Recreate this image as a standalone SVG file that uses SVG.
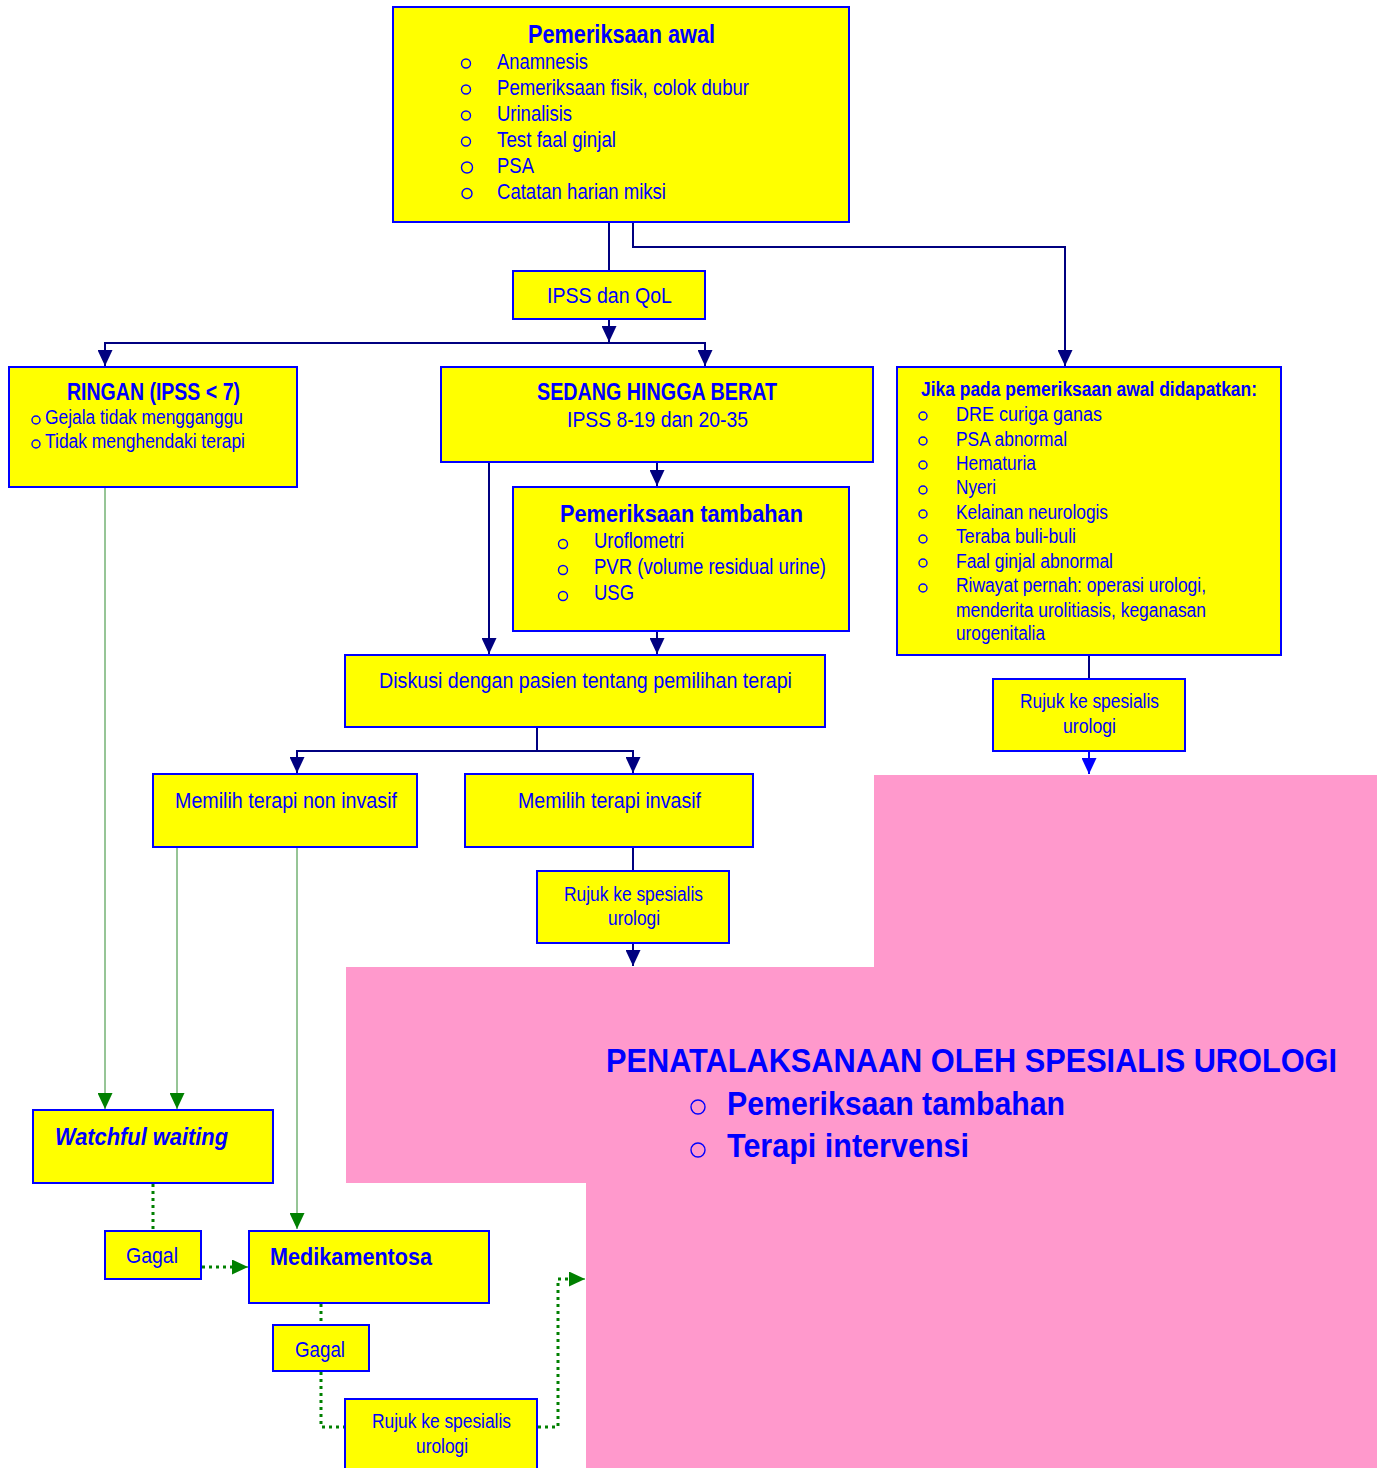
<svg xmlns="http://www.w3.org/2000/svg" width="1377" height="1468" viewBox="0 0 1377 1468">
<style>
.box{fill:#FFFF00;stroke:#0000FF;stroke-width:2}
text{font-family:"Liberation Sans",Arial,sans-serif;fill:#0000FF}
.t{font-size:22px}
.s{font-size:20px}
.b{font-weight:bold}
.bul{fill:none;stroke:#0000FF;stroke-width:1.4}
.nv{fill:none;stroke:#000080;stroke-width:2}
.gr{fill:none;stroke:#2E8B2E;stroke-width:1}
.gd{fill:none;stroke:#008000;stroke-width:3;stroke-dasharray:3 4}
</style>
<defs>
<marker id="an" viewBox="0 0 16 15" refX="16" refY="7.5" markerWidth="16" markerHeight="15" markerUnits="userSpaceOnUse" orient="auto"><path d="M0,0 L16,7.5 L0,15 z" fill="#000080"/></marker>
<marker id="ab" viewBox="0 0 16 15" refX="16" refY="7.5" markerWidth="16" markerHeight="15" markerUnits="userSpaceOnUse" orient="auto"><path d="M0,0 L16,7.5 L0,15 z" fill="#0000FF"/></marker>
<marker id="ag" viewBox="0 0 16 15" refX="16" refY="7.5" markerWidth="16" markerHeight="15" markerUnits="userSpaceOnUse" orient="auto"><path d="M0,0 L16,7.5 L0,15 z" fill="#008000"/></marker>
</defs>
<rect width="1377" height="1468" fill="#FFFFFF"/>

<g id="pink">
<path d="M874,775 H1377 V1468 H586 V1183 H346 V967 H874 Z" fill="#FF99CC"/>
<text class="b" transform="translate(606,1072) scale(0.85,1)" x="0" y="0" font-size="33" textLength="860" lengthAdjust="spacingAndGlyphs">PENATALAKSANAAN OLEH SPESIALIS UROLOGI</text>
<circle class="bul" cx="698" cy="1107" r="7" stroke-width="2"/>
<text class="b" x="727" y="1115" font-size="33" textLength="338" lengthAdjust="spacingAndGlyphs">Pemeriksaan tambahan</text>
<circle class="bul" cx="698" cy="1150" r="7" stroke-width="2"/>
<text class="b" x="727" y="1157" font-size="33" textLength="242" lengthAdjust="spacingAndGlyphs">Terapi intervensi</text>
</g>

<g id="connectors">
<path class="nv" d="M609,222 V271"/>
<path class="nv" d="M633,222 V247 H1065 V366" marker-end="url(#an)"/>
<path class="nv" d="M609,319 V342" marker-end="url(#an)"/>
<path class="nv" d="M609,343 H105 V366" marker-end="url(#an)"/>
<path class="nv" d="M609,343 H705 V366" marker-end="url(#an)"/>
<path class="nv" d="M657,463 V486" marker-end="url(#an)"/>
<path class="nv" d="M489,463 V654" marker-end="url(#an)"/>
<path class="nv" d="M657,631 V654" marker-end="url(#an)"/>
<path class="nv" d="M537,727 V751 H297 V773" marker-end="url(#an)"/>
<path class="nv" d="M537,751 H633 V773" marker-end="url(#an)"/>
<path class="nv" d="M633,847 V871"/>
<path class="nv" d="M633,943 V966" marker-end="url(#an)"/>
<path class="nv" d="M1089,655 V679"/>
<path d="M1089,751 V774" fill="none" stroke="#0000FF" stroke-width="2" marker-end="url(#ab)"/>
<path class="gr" d="M105,487 V1109" marker-end="url(#ag)"/>
<path class="gr" d="M177,847 V1109" marker-end="url(#ag)"/>
<path class="gr" d="M297,847 V1229" marker-end="url(#ag)"/>
<path class="gd" d="M153,1184 V1231"/>
<path class="gd" d="M202,1267 H233"/>
<path d="M233,1267 H248" fill="none" stroke="#008000" stroke-width="1" marker-end="url(#ag)"/>
<path class="gd" d="M321,1304 V1325"/>
<path class="gd" d="M321,1372 V1427 H345"/>
<path class="gd" d="M538,1427 H558 V1279 H570"/>
<path d="M570,1279 H585" fill="none" stroke="#008000" stroke-width="1" marker-end="url(#ag)"/>
</g>

<g id="pemeriksaan-awal">
<rect class="box" x="393" y="7" width="456" height="215"/>
<text class="b" x="528" y="43" font-size="26" textLength="187" lengthAdjust="spacingAndGlyphs">Pemeriksaan awal</text>
<circle class="bul" cx="466" cy="63.5" r="4.5"/>
<text class="t" x="497" y="69" textLength="91" lengthAdjust="spacingAndGlyphs">Anamnesis</text>
<circle class="bul" cx="466" cy="89.5" r="4.5"/>
<text class="t" x="497" y="95" textLength="252" lengthAdjust="spacingAndGlyphs">Pemeriksaan fisik, colok dubur</text>
<circle class="bul" cx="466" cy="115.5" r="4.5"/>
<text class="t" x="497" y="121" textLength="75" lengthAdjust="spacingAndGlyphs">Urinalisis</text>
<circle class="bul" cx="466" cy="141.5" r="4.5"/>
<text class="t" x="497" y="147" textLength="119" lengthAdjust="spacingAndGlyphs">Test faal ginjal</text>
<circle class="bul" cx="467" cy="167.5" r="5.5" stroke-width="1.8"/>
<text class="t" x="497" y="173" textLength="37" lengthAdjust="spacingAndGlyphs">PSA</text>
<circle class="bul" cx="467" cy="193.5" r="5" stroke-width="1.6"/>
<text class="t" x="497" y="199" textLength="169" lengthAdjust="spacingAndGlyphs">Catatan harian miksi</text>
</g>

<g id="ipss-qol">
<rect class="box" x="513" y="271" width="192" height="48"/>
<text class="t" x="547" y="303" textLength="125" lengthAdjust="spacingAndGlyphs">IPSS dan QoL</text>
</g>

<g id="ringan">
<rect class="box" x="9" y="367" width="288" height="120"/>
<text class="b" x="67" y="400" font-size="23" textLength="173" lengthAdjust="spacingAndGlyphs">RINGAN (IPSS &lt; 7)</text>
<circle class="bul" cx="36" cy="420" r="4"/>
<text class="s" x="45" y="424" textLength="198" lengthAdjust="spacingAndGlyphs">Gejala tidak mengganggu</text>
<circle class="bul" cx="36" cy="444" r="4"/>
<text class="s" x="45" y="448" textLength="200" lengthAdjust="spacingAndGlyphs">Tidak menghendaki terapi</text>
</g>

<g id="sedang-berat">
<rect class="box" x="441" y="367" width="432" height="95"/>
<text class="b" x="537" y="400" font-size="23" textLength="240" lengthAdjust="spacingAndGlyphs">SEDANG HINGGA BERAT</text>
<text class="t" x="567" y="427" textLength="181" lengthAdjust="spacingAndGlyphs">IPSS 8-19 dan 20-35</text>
</g>

<g id="pemeriksaan-tambahan">
<rect class="box" x="513" y="487" width="336" height="144"/>
<text class="b" x="560" y="522" font-size="24" textLength="243" lengthAdjust="spacingAndGlyphs">Pemeriksaan tambahan</text>
<circle class="bul" cx="563" cy="544" r="4.5"/>
<text class="t" x="594" y="548" textLength="90" lengthAdjust="spacingAndGlyphs">Uroflometri</text>
<circle class="bul" cx="563" cy="570" r="4.5"/>
<text class="t" x="594" y="574" textLength="232" lengthAdjust="spacingAndGlyphs">PVR (volume residual urine)</text>
<circle class="bul" cx="563" cy="596" r="4.5"/>
<text class="t" x="594" y="600" textLength="40" lengthAdjust="spacingAndGlyphs">USG</text>
</g>

<g id="diskusi">
<rect class="box" x="345" y="655" width="480" height="72"/>
<text class="t" x="379" y="688" textLength="413" lengthAdjust="spacingAndGlyphs">Diskusi dengan pasien tentang pemilihan terapi</text>
</g>

<g id="non-invasif">
<rect class="box" x="153" y="774" width="264" height="73"/>
<text class="t" x="175" y="808" textLength="222" lengthAdjust="spacingAndGlyphs">Memilih terapi non invasif</text>
</g>

<g id="invasif">
<rect class="box" x="465" y="774" width="288" height="73"/>
<text class="t" x="518" y="808" textLength="183" lengthAdjust="spacingAndGlyphs">Memilih terapi invasif</text>
</g>

<g id="rujuk-invasif">
<rect class="box" x="537" y="871" width="192" height="72"/>
<text class="s" x="564" y="901" textLength="139" lengthAdjust="spacingAndGlyphs">Rujuk ke spesialis</text>
<text class="s" x="608" y="925" textLength="52" lengthAdjust="spacingAndGlyphs">urologi</text>
</g>

<g id="jika">
<rect class="box" x="897" y="367" width="384" height="288"/>
<text class="b" x="921" y="396" font-size="20" textLength="336" lengthAdjust="spacingAndGlyphs">Jika pada pemeriksaan awal didapatkan:</text>
<circle class="bul" cx="923" cy="416" r="4"/>
<text class="s" x="956" y="421" textLength="146" lengthAdjust="spacingAndGlyphs">DRE curiga  ganas</text>
<circle class="bul" cx="923" cy="441" r="4"/>
<text class="s" x="956" y="446" textLength="111" lengthAdjust="spacingAndGlyphs">PSA abnormal</text>
<circle class="bul" cx="923" cy="465" r="4"/>
<text class="s" x="956" y="470" textLength="80" lengthAdjust="spacingAndGlyphs">Hematuria</text>
<circle class="bul" cx="923" cy="490" r="4"/>
<text class="s" x="956" y="494" textLength="40" lengthAdjust="spacingAndGlyphs">Nyeri</text>
<circle class="bul" cx="923" cy="514" r="4"/>
<text class="s" x="956" y="519" textLength="152" lengthAdjust="spacingAndGlyphs">Kelainan neurologis</text>
<circle class="bul" cx="923" cy="539" r="4"/>
<text class="s" x="956" y="543" textLength="120" lengthAdjust="spacingAndGlyphs">Teraba buli-buli</text>
<circle class="bul" cx="923" cy="563" r="4"/>
<text class="s" x="956" y="568" textLength="157" lengthAdjust="spacingAndGlyphs">Faal ginjal abnormal</text>
<circle class="bul" cx="923" cy="588" r="4"/>
<text class="s" x="956" y="592" textLength="250" lengthAdjust="spacingAndGlyphs">Riwayat pernah: operasi urologi,</text>
<text class="s" x="956" y="617" textLength="250" lengthAdjust="spacingAndGlyphs">menderita urolitiasis, keganasan</text>
<text class="s" x="956" y="640" textLength="89" lengthAdjust="spacingAndGlyphs">urogenitalia</text>
</g>

<g id="rujuk-jika">
<rect class="box" x="993" y="679" width="192" height="72"/>
<text class="s" x="1020" y="708" textLength="139" lengthAdjust="spacingAndGlyphs">Rujuk ke spesialis</text>
<text class="s" x="1063" y="733" textLength="53" lengthAdjust="spacingAndGlyphs">urologi</text>
</g>

<g id="watchful">
<rect class="box" x="33" y="1110" width="240" height="73"/>
<text class="b" x="55" y="1145" font-size="24" font-style="italic" textLength="173" lengthAdjust="spacingAndGlyphs">Watchful waiting</text>
</g>

<g id="gagal-1">
<rect class="box" x="105" y="1231" width="96" height="48"/>
<text class="t" x="126" y="1263" textLength="52" lengthAdjust="spacingAndGlyphs">Gagal</text>
</g>

<g id="medikamentosa">
<rect class="box" x="249" y="1231" width="240" height="72"/>
<text class="b" x="270" y="1265" font-size="24" textLength="162" lengthAdjust="spacingAndGlyphs">Medikamentosa</text>
</g>

<g id="gagal-2">
<rect class="box" x="273" y="1325" width="96" height="46"/>
<text class="t" x="295" y="1357" textLength="50" lengthAdjust="spacingAndGlyphs">Gagal</text>
</g>

<g id="rujuk-gagal">
<rect class="box" x="345" y="1399" width="192" height="80"/>
<text class="s" x="372" y="1428" textLength="139" lengthAdjust="spacingAndGlyphs">Rujuk ke spesialis</text>
<text class="s" x="416" y="1453" textLength="52" lengthAdjust="spacingAndGlyphs">urologi</text>
</g>
</svg>
